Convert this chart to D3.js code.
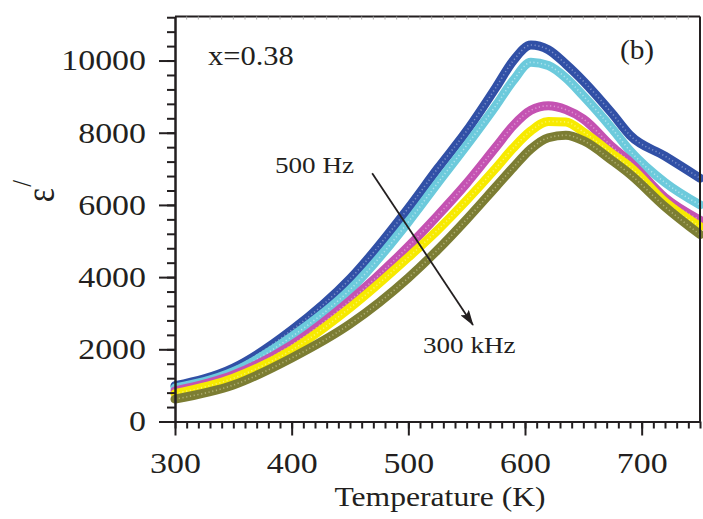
<!DOCTYPE html>
<html>
<head>
<meta charset="utf-8">
<script src="https://cdn.jsdelivr.net/npm/d3@7"></script>
<style>
  body { margin: 0; background: #fff; }
  svg { display: block; }
  text { font-family: "Liberation Serif", "Times New Roman", serif; fill: #231f20; }
</style>
</head>
<body>
<script>
// temperatures (K) shared by all frequency curves
const temps = [300, 350, 400, 450, 500, 525, 550, 575, 590, 605, 620, 635, 650, 675, 690, 720, 750];

// permittivity values, 500 Hz ... 300 kHz
const f500Hz  = [990, 1480, 2530, 3950, 5910, 7000, 8050, 9250, 10000, 10430, 10300, 9900, 9430, 8520, 7930, 7350, 6740];
const f5kHz   = [930, 1380, 2350, 3650, 5530, 6600, 7650, 8750, 9450, 9950, 9860, 9520, 9020, 8100, 7500, 6620, 6000];
const f50kHz  = [850, 1290, 2120, 3350, 4850, 5700, 6600, 7600, 8200, 8620, 8745, 8640, 8380, 7600, 7190, 6200, 5580];
const f100kHz = [770, 1200, 1980, 3150, 4550, 5300, 6130, 7020, 7580, 8050, 8310, 8300, 8020, 7410, 7050, 6080, 5400];
const f300kHz = [620, 1010, 1760, 2700, 3980, 4750, 5600, 6500, 7040, 7550, 7860, 7930, 7780, 7220, 6850, 5950, 5180];

const seriesValues = [f500Hz, f5kHz, f50kHz, f100kHz, f300kHz];
const seriesColors = ["#3150a6", "#6ccadc", "#c452b2", "#f7ea00", "#7c7d33"];
const seriesLight  = ["#b9c3e6", "#e4f7fb", "#f0c6ea", "#fffbb0", "#d8d8a8"];

const xMajor = [300, 400, 500, 600, 700];
const xMinor = d3.range(300, 751, 10);
const yMajor = [0, 2000, 4000, 6000, 8000, 10000];
const yMinor = d3.range(0, 11201, 400);

const width = 703, height = 519;
const sx = 1.15; // the figure's text is a little wide

const svg = d3.select("body").append("svg")
  .attr("width", width)
  .attr("height", height);

const x = d3.scaleLinear().domain([300, 750]).range([175, 700]);
const y = d3.scaleLinear().domain([0, 11220]).range([421.5, 16.5]);

// curves
const line = d3.line()
  .x((d, i) => x(temps[i]))
  .y(d => y(d))
  .curve(d3.curveMonotoneX);

seriesValues.forEach((vals, k) => {
  svg.append("path")
    .attr("d", line(vals))
    .attr("fill", "none")
    .attr("stroke", seriesColors[k])
    .attr("stroke-width", 9)
    .attr("stroke-linecap", "round");
  svg.append("path")
    .attr("d", line(vals))
    .attr("fill", "none")
    .attr("stroke", seriesLight[k])
    .attr("stroke-width", 1.6)
    .attr("stroke-dasharray", "1.2 2.6")
    .attr("opacity", 0.55);
});

// frame: top and right lines
svg.append("line")
  .attr("x1", x(300)).attr("x2", x(750))
  .attr("y1", y.range()[1]).attr("y2", y.range()[1])
  .attr("stroke", "#231f20").attr("stroke-width", 2);
svg.append("line")
  .attr("x1", x(750)).attr("x2", x(750))
  .attr("y1", y.range()[1]).attr("y2", y(0))
  .attr("stroke", "#231f20").attr("stroke-width", 2);

// faint ticks on the top line
svg.append("g")
  .selectAll("line")
  .data(xMinor.slice(1, -1))
  .join("line")
  .attr("x1", d => x(d)).attr("x2", d => x(d))
  .attr("y1", y.range()[1]).attr("y2", y.range()[1] + 3)
  .attr("stroke", "#aaa").attr("stroke-width", 1);

// x axis
const gx = svg.append("g").attr("transform", `translate(0,${y(0)})`);
gx.append("g").call(d3.axisBottom(x).tickValues(xMinor).tickSize(7).tickSizeOuter(0).tickFormat(""));
gx.append("g").call(d3.axisBottom(x).tickValues(xMajor).tickSize(14).tickSizeOuter(0).tickPadding(17));
gx.selectAll("path.domain").attr("stroke", "#231f20").attr("stroke-width", 2);
gx.selectAll(".tick line").attr("stroke", "#231f20").attr("stroke-width", 2);
gx.selectAll(".tick text")
  .attr("font-size", 29.5)
  .attr("font-family", "Liberation Serif, Times New Roman, serif")
  .attr("fill", "#231f20")
  .attr("transform", `scale(${sx},1)`);

// y axis
const gy = svg.append("g").attr("transform", `translate(${x(300)},0)`);
gy.append("g").call(d3.axisLeft(y).tickValues(yMinor).tickSize(8).tickSizeOuter(0).tickFormat(""));
gy.append("g").call(d3.axisLeft(y).tickValues(yMajor).tickSize(16).tickSizeOuter(0).tickFormat(d3.format("d")));
gy.selectAll("path.domain").attr("stroke", "#231f20").attr("stroke-width", 2);
gy.selectAll(".tick line").attr("stroke", "#231f20").attr("stroke-width", 2);
gy.selectAll(".tick text")
  .attr("font-size", 29.5)
  .attr("font-family", "Liberation Serif, Times New Roman, serif")
  .attr("fill", "#231f20")
  .attr("x", -29 / sx)
  .attr("transform", `scale(${sx},1)`);

// plain text helper, stretched a bit horizontally
function label(px, py, str, size, anchor, stretch) {
  return svg.append("text")
    .attr("transform", `translate(${px},${py}) scale(${stretch},1)`)
    .attr("text-anchor", anchor)
    .attr("font-size", size)
    .text(str);
}

label(440, 506, "Temperature (K)", 27.5, "middle", sx);
label(208, 65, "x=0.38", 27, "start", 1.13);
label(637, 59, "(b)", 28, "middle", 1.05);
label(275, 173, "500 Hz", 24, "start", 1.13);
label(423, 353, "300 kHz", 24, "start", 1.13);

// y label: epsilon prime, rotated
const ylab = svg.append("g").attr("transform", `translate(45,195) scale(${sx},1) rotate(-90)`);
ylab.append("text")
  .attr("x", 0).attr("y", 7.8)
  .attr("text-anchor", "middle")
  .attr("font-size", 34)
  .text("ε");
ylab.append("text")
  .attr("x", 11.5).attr("y", -12)
  .attr("text-anchor", "middle")
  .attr("font-size", 24)
  .text("/");

// arrow from 500 Hz to 300 kHz
svg.append("defs").append("marker")
  .attr("id", "head")
  .attr("viewBox", "0 0 16 10")
  .attr("refX", 15).attr("refY", 5)
  .attr("markerWidth", 16).attr("markerHeight", 10)
  .attr("markerUnits", "userSpaceOnUse")
  .attr("orient", "auto")
  .append("path")
  .attr("d", "M0,0 L16,5 L0,10 L3,5 Z")
  .attr("fill", "#231f20");

svg.append("line")
  .attr("x1", x(469)).attr("y1", y(6880))
  .attr("x2", x(555.4)).attr("y2", y(2673))
  .attr("stroke", "#231f20")
  .attr("stroke-width", 1.8)
  .attr("marker-end", "url(#head)");
</script>
</body>
</html>
